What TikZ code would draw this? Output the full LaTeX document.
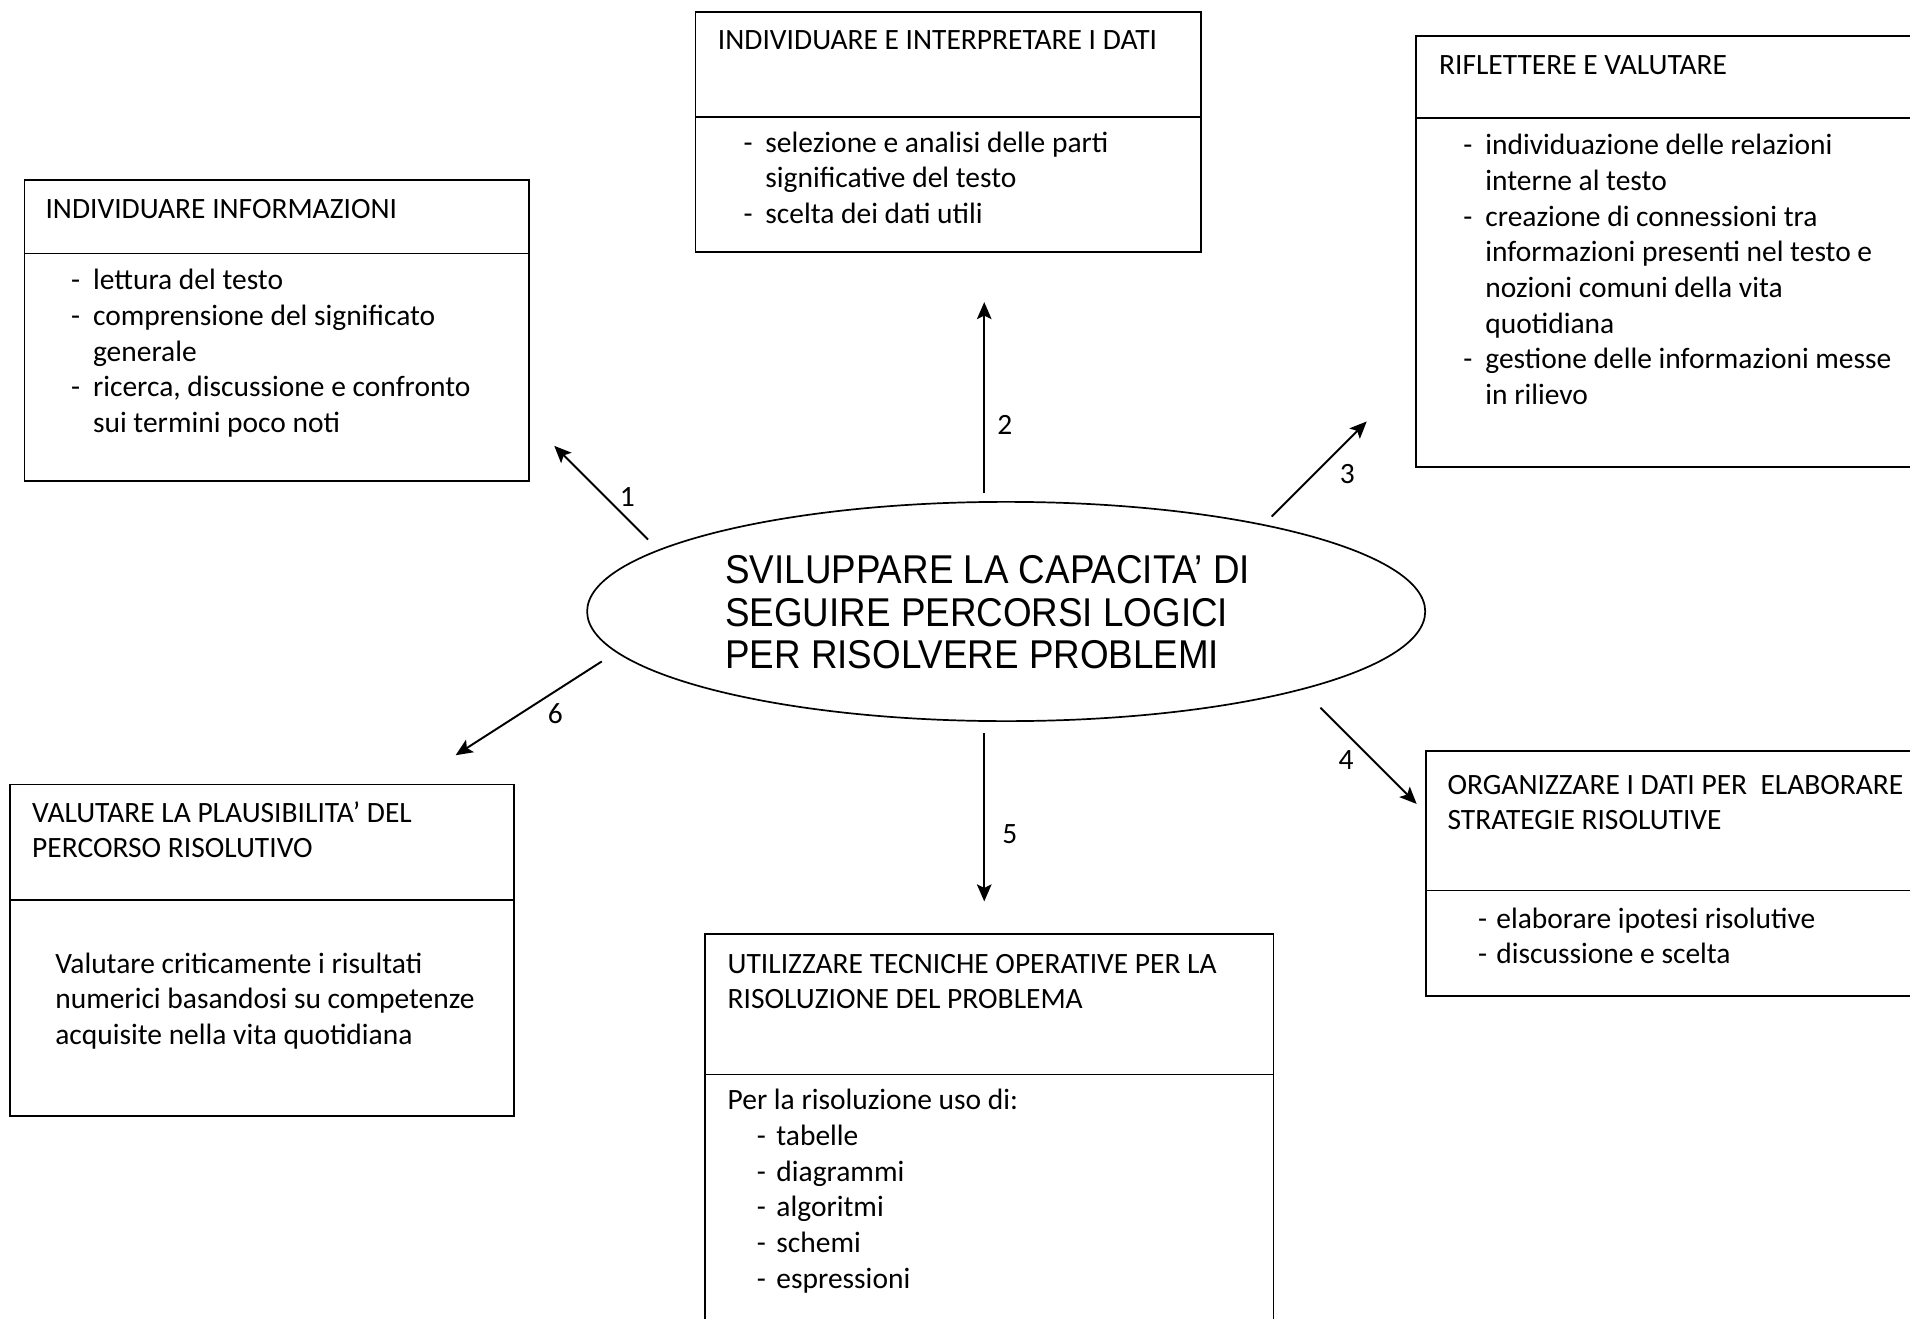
\documentclass[tikz,border=0pt]{standalone}
\usepackage{fontspec}
\setmainfont{Carlito}
\newfontfamily\narrowfont[FakeStretch=0.915]{Liberation Sans}
\usetikzlibrary{arrows.meta,fit,shapes.geometric}
\newcommand\bl[1]{\makebox[9pt][l]{-}#1}
\newcommand\cl[1]{\hspace*{9pt}#1}
\begin{document}
\begin{tikzpicture}[x=0.5pt,y=-0.5pt,
  boxline/.style={line width=0.7pt},
  box/.style={draw, line width=0.7pt, inner sep=0pt},
  frame/.style={inner sep=0pt},
  txt/.style={anchor=base west, align=left, inner sep=0pt, font=\fontsize{12.1}{14.65}\selectfont},
  num/.style={inner sep=0pt, font=\fontsize{12.1}{14.65}\selectfont},
  arr/.style={line width=0.8pt, -{Stealth[length=7pt,width=6pt,inset=1.5pt]}}]
\useasboundingbox (0,0) rectangle (1568,1082);

% Box 1
\node[box, fit={(20,148) (434,395)}] (b1) {};
\draw[boxline] (20,208) -- (434,208);
\node[txt] (t1) at (37,179) {INDIVIDUARE INFORMAZIONI};
\node[txt] (c1) at (58,355.2) {\bl{lettura del testo}\\ \bl{comprensione del significato}\\ \cl{generale}\\ \bl{ricerca, discussione e confronto}\\ \cl{sui termini poco noti}};

% Box 2
\node[box, fit={(571,10) (986,207)}] (b2) {};
\draw[boxline] (571,96) -- (986,96);
\node[txt] (t2) at (589,41) {INDIVIDUARE E INTERPRETARE I DATI};
\node[txt] (c2) at (610,183.6) {\bl{selezione e analisi delle parti}\\ \cl{significative del testo}\\ \bl{scelta dei dati utili}};

% Box 3 (open on the right)
\node[frame, fit={(1163,30) (1568,383)}] (b3) {};
\draw[boxline] (b3.north east) -- (b3.north west) -- (b3.south west) -- (b3.south east);
\draw[boxline] (1163,97) -- (1568,97);
\node[txt] (t3) at (1181,61) {RIFLETTERE E VALUTARE};
\node[txt] (c3) at (1201,332.1) {\bl{individuazione delle relazioni}\\ \cl{interne al testo}\\ \bl{creazione di connessioni tra}\\ \cl{informazioni presenti nel testo e}\\ \cl{nozioni comuni della vita}\\ \cl{quotidiana}\\ \bl{gestione delle informazioni messe}\\ \cl{in rilievo}};

% Box 4 (open on the right)
\node[frame, fit={(1171,617) (1568,817)}] (b4) {};
\draw[boxline] (b4.north east) -- (b4.north west) -- (b4.south west) -- (b4.south east);
\draw[boxline] (1171,731) -- (1568,731);
\node[txt] (t4) at (1188,681.3) {ORGANIZZARE I DATI PER\ \ ELABORARE\\ STRATEGIE RISOLUTIVE};
\node[txt] (c4) at (1213,791.3) {\makebox[7.5pt][l]{-}elaborare ipotesi risolutive\\ \makebox[7.5pt][l]{-}discussione e scelta};

% Box 5 (open at the bottom)
\node[frame, fit={(579,767) (1045,1082)}] (b5) {};
\draw[boxline] (b5.south west) -- (b5.north west) -- (b5.north east) -- (b5.south east);
\draw[boxline] (579,882) -- (1045,882);
\node[txt] (t5) at (597,828.3) {UTILIZZARE TECNICHE OPERATIVE PER LA\\ RISOLUZIONE DEL PROBLEMA};
\node[txt] (c5) at (597,1057.5) {Per la risoluzione uso di:\\ \hspace*{12pt}\makebox[8pt][l]{-}tabelle\\ \hspace*{12pt}\makebox[8pt][l]{-}diagrammi\\ \hspace*{12pt}\makebox[8pt][l]{-}algoritmi\\ \hspace*{12pt}\makebox[8pt][l]{-}schemi\\ \hspace*{12pt}\makebox[8pt][l]{-}espressioni};

% Box 6
\node[box, fit={(8,644) (422,916)}] (b6) {};
\draw[boxline] (8,739) -- (422,739);
\node[txt] (t6) at (26,704.3) {VALUTARE LA PLAUSIBILITA’ DEL\\ PERCORSO RISOLUTIVO};
\node[txt] (c6) at (45,857.6) {Valutare criticamente i risultati\\ numerici basandosi su competenze\\ acquisite nella vita quotidiana};

% Central ellipse
\node[ellipse, draw, line width=0.7pt, inner sep=0pt, minimum width=344pt, minimum height=90pt] (core) at (826,502) {};
\node[anchor=base west, align=left, inner sep=0pt, font=\narrowfont\fontsize{16.5}{17.5}\selectfont] (ct) at (595,549) {SVILUPPARE LA CAPACITA’ DI\\ SEGUIRE PERCORSI LOGICI\\ PER RISOLVERE PROBLEMI};

% Arrow end points
\coordinate (s1) at (532,443); \coordinate (e1) at (455,366);
\coordinate (s2) at (808,405); \coordinate (e2) at (808,248);
\coordinate (s3) at (1044,424); \coordinate (e3) at (1122,346);
\coordinate (s4) at (1084,581); \coordinate (e4) at (1163,660);
\coordinate (s5) at (808,602); \coordinate (e5) at (808,740);
\coordinate (s6) at (494,543); \coordinate (e6) at (374,620);

\draw[arr] (s1) -- (e1);
\draw[arr] (s2) -- (e2);
\draw[arr] (s3) -- (e3);
\draw[arr] (s4) -- (e4);
\draw[arr] (s5) -- (e5);
\draw[arr] (s6) -- (e6);

\node[num] (n1) at (515,408) {1};
\node[num] (n2) at (825,349) {2};
\node[num] (n3) at (1106,389) {3};
\node[num] (n4) at (1105,624) {4};
\node[num] (n5) at (829,685) {5};
\node[num] (n6) at (456,586) {6};
\end{tikzpicture}
\end{document}
